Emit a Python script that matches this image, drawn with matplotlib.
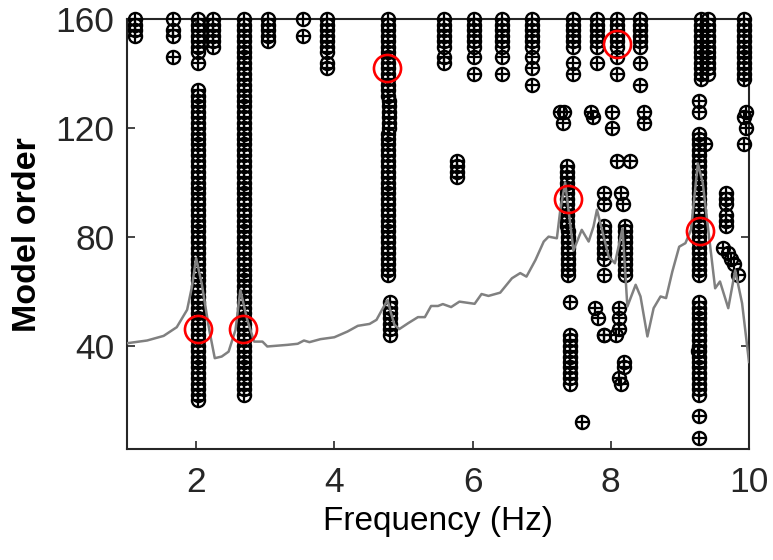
import numpy as np
import matplotlib
matplotlib.use("Agg")
import matplotlib.pyplot as plt

# ---------------- data ----------------
# stable poles: column frequency (Hz) and model-order segments (start, end), step 2
col_freq = [1.12, 1.67, 1.67, 2.03, 2.03, 2.25, 2.69, 3.04, 3.55, 3.89, 3.89,
            4.77, 4.79, 4.77, 4.81, 5.58, 5.58, 5.77, 6.02, 6.02, 6.42, 6.42,
            6.86, 6.86, 7.46, 7.46, 7.80, 7.80, 8.09, 8.09, 8.43, 8.43,
            9.30, 9.40, 9.27, 9.27, 9.27, 9.37, 9.26, 9.93, 9.95, 9.93,
            7.27, 7.33, 7.31, 7.72, 7.75, 8.02, 8.48, 8.09, 8.28,
            7.37, 7.38, 7.41, 7.58,
            7.90, 7.90, 7.90, 7.77, 7.82, 7.90,
            8.15, 8.17, 8.21, 8.12, 8.12, 8.08, 8.19, 8.12, 8.15,
            9.66, 9.67, 9.62, 9.70, 9.74, 9.79, 9.84]
col_segments = [[(154, 160)], [(154, 156), (160, 160)], [(146, 146)],
                [(20, 134), (148, 160)], [(144, 144)], [(150, 160)], [(22, 160)],
                [(152, 160)], [(154, 154), (160, 160)], [(148, 160)], [(142, 144)],
                [(66, 118)], [(120, 130)], [(132, 160)], [(44, 56)],
                [(150, 160)], [(144, 146)], [(102, 108)],
                [(150, 160)], [(140, 140), (146, 146)],
                [(150, 160)], [(140, 140), (146, 146)],
                [(150, 160)], [(136, 136), (142, 142), (146, 146)],
                [(150, 160)], [(140, 140), (144, 144)],
                [(150, 160)], [(144, 144)],
                [(150, 160)], [(140, 140), (146, 146)],
                [(150, 160)], [(136, 136), (144, 144)],
                [(138, 160)], [(140, 160)], [(66, 118)], [(22, 56)],
                [(6, 6), (14, 14), (126, 126), (130, 130)], [(114, 114)], [(38, 38)],
                [(138, 160)], [(120, 120), (126, 126)], [(114, 114), (124, 124)],
                [(126, 126)], [(126, 126)], [(122, 122)], [(126, 126)], [(124, 124)],
                [(120, 120), (126, 126)], [(122, 122), (126, 126)], [(108, 108)], [(108, 108)],
                [(84, 106)], [(66, 82)], [(26, 44), (56, 56)], [(12, 12)],
                [(92, 92), (96, 96)], [(72, 84)], [(66, 66), (44, 44)], [(54, 54)], [(50, 50)], [(44, 44)],
                [(96, 96)], [(92, 92)], [(66, 84)], [(50, 50), (54, 54)], [(46, 46)], [(44, 44)],
                [(32, 34)], [(28, 28)], [(26, 26)],
                [(92, 96)], [(84, 88)], [(76, 76)], [(74, 74)], [(72, 72)], [(70, 70)], [(66, 66)]]

# selected (physical) modes
sel_freq = [2.03, 2.675, 4.76, 7.38, 8.09, 9.29]
sel_order = [46, 46, 142, 94, 151, 82]

# spectrum-like curve (scaled to model-order axis)
line_f = [1.0, 1.29, 1.53, 1.72, 1.87, 1.94, 2.0, 2.08, 2.19, 2.27, 2.37, 2.47, 2.57,
          2.64, 2.74, 2.84, 2.96, 3.03, 3.32, 3.47, 3.56, 3.64, 3.80, 4.0, 4.19, 4.34,
          4.51, 4.61, 4.69, 4.77, 4.82, 4.87, 4.94, 5.07, 5.21, 5.31, 5.40, 5.50, 5.57,
          5.69, 5.81, 6.03, 6.13, 6.23, 6.40, 6.57, 6.69, 6.78, 6.91, 7.03, 7.10, 7.22,
          7.27, 7.34, 7.46, 7.58, 7.68, 7.75, 7.80, 7.97, 8.06, 8.17, 8.24, 8.36, 8.43,
          8.53, 8.62, 8.72, 8.80, 8.89, 8.99, 9.08, 9.16, 9.26, 9.33, 9.51, 9.58, 9.70,
          9.80, 9.90, 10.0]
line_v = [40.9, 41.9, 43.6, 46.8, 53.2, 61.7, 72.2, 63.0, 45.8, 35.4, 36.0, 37.8, 45.8,
          60.5, 49.5, 41.5, 41.5, 39.7, 40.3, 40.7, 41.9, 41.3, 42.4, 43.1, 45.2, 47.3,
          48.0, 49.5, 53.2, 56.8, 52.0, 47.7, 46.1, 48.3, 50.5, 50.5, 54.6, 54.6, 55.3,
          54.2, 56.2, 55.4, 59.0, 58.3, 59.5, 64.8, 66.7, 65.4, 71.5, 78.3, 80.1, 79.5,
          90.0, 100.0, 75.0, 82.6, 78.3, 83.8, 90.0, 72.8, 70.3, 83.2, 54.4, 62.4, 58.1,
          43.4, 53.8, 58.1, 57.5, 67.2, 76.4, 77.7, 82.6, 107.0, 100.0, 61.1, 63.6, 53.8,
          67.7, 55.6, 34.0]

x_ticks = [2, 4, 6, 8, 10]
y_ticks = [40, 80, 120, 160]

# ---------------- expand poles ----------------
pf, po = [], []
for f, segs in zip(col_freq, col_segments):
    for a, b in segs:
        for o in range(a, b + 1, 2):
            pf.append(f)
            po.append(o)

# ---------------- figure ----------------
plt.rcParams['font.family'] = ['Liberation Sans', 'DejaVu Sans']
fig = plt.figure(figsize=(7.73, 5.60), dpi=100)
W, H = 773, 560
ax = fig.add_axes([127 / W, 1 - 449 / H, (749 - 127) / W, (449 - 19.4) / H])

ax.plot(pf, po, linestyle='none', marker='o', ms=9.4, mfc='none', mec='black',
        mew=1.7, clip_on=False, zorder=3)
ax.plot(pf, po, linestyle='none', marker='+', ms=9.4, mec='black',
        mew=1.6, clip_on=False, zorder=3)
ax.plot(line_f, line_v, color='#808080', lw=1.8, zorder=4)
ax.plot(sel_freq, sel_order, linestyle='none', marker='o', ms=19.5, mfc='none',
        mec='red', mew=1.9, clip_on=False, zorder=5)

ax.set_xlim(1, 10)
ax.set_ylim(2, 160)
ax.set_xticks(x_ticks)
ax.set_yticks(y_ticks)
ax.set_xticklabels([str(v) for v in x_ticks])
ax.set_yticklabels([str(v) for v in y_ticks])

for s in ax.spines.values():
    s.set_linewidth(1.5)
    s.set_color('#262626')
    s.set_zorder(2)

ax.tick_params(direction='in', length=6, width=1.2, colors='#262626',
               labelsize=25.5, top=True, right=True, pad=9)
ax.tick_params(axis='x', pad=12)

ax.set_xlabel('Frequency (Hz)', fontsize=24, color='black', labelpad=5)
ax.set_ylabel('Model order', fontsize=24.5, color='black', fontweight='bold', labelpad=9)

fig.savefig('out.png', dpi=100)
